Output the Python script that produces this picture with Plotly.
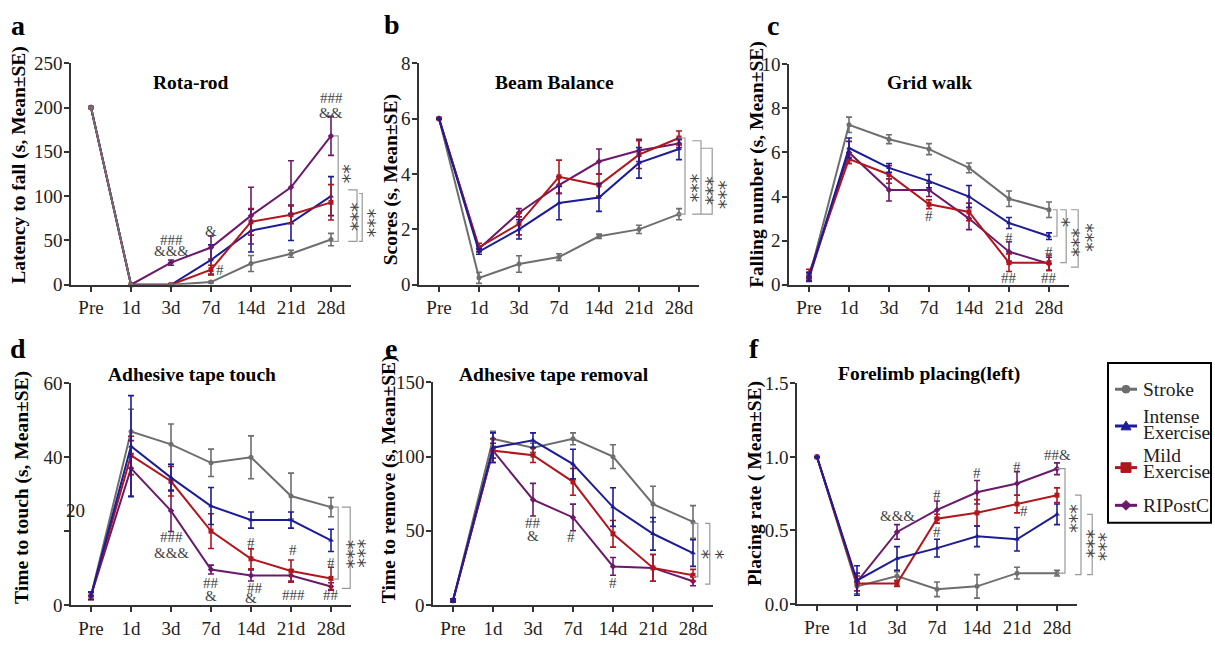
import plotly.graph_objects as go

W, H = 1215, 645
SERIF = "Liberation Serif"
INK = "#222222"
MARK = "#444444"
BRACKET = "#999999"

# ---------------- data ----------------
time_labels = ["Pre", "1d", "3d", "7d", "14d", "21d", "28d"]
group_names = ["Stroke", "Intense Exercise", "Mild Exercise", "RIPostC"]
legend_lines = [["Stroke"], ["Intense", "Exercise"], ["Mild", "Exercise"], ["RIPostC"]]
group_colors = ["#6e6e6e", "#1c1c96", "#b0161c", "#6b1a6b"]
group_symbols = ["circle", "triangle-up", "square", "diamond"]

# a  Rota-rod (latency to fall, s)
rota_stroke = [200, 0, 0, 3, 24, 35, 51]
rota_stroke_se = [0, 0, 0, 1, 9, 4, 7]
rota_intense = [200, 0, 0, 28, 61, 70, 100]
rota_intense_se = [0, 0, 0, 17, 24, 20, 22]
rota_mild = [200, 0, 0, 17, 71, 79, 93]
rota_mild_se = [0, 0, 1, 5, 15, 10, 20]
rota_ripostc = [200, 0, 25, 42, 78, 110, 168]
rota_ripostc_se = [0, 0, 3, 13, 32, 30, 22]

# b  Beam Balance (scores)
beam_stroke = [6, 0.25, 0.75, 1.0, 1.75, 2.0, 2.55]
beam_stroke_se = [0, 0.2, 0.3, 0.12, 0.08, 0.15, 0.2]
beam_intense = [6, 1.2, 2.0, 2.95, 3.15, 4.4, 4.9]
beam_intense_se = [0, 0.1, 0.35, 0.6, 0.5, 0.55, 0.38]
beam_mild = [6, 1.35, 2.2, 3.9, 3.6, 4.7, 5.3]
beam_mild_se = [0, 0.15, 0.4, 0.6, 0.4, 0.5, 0.25]
beam_ripostc = [6, 1.3, 2.6, 3.6, 4.45, 4.85, 5.1]
beam_ripostc_se = [0, 0.1, 0.15, 0.3, 0.45, 0.4, 0.15]

# c  Grid walk (falling number)
grid_stroke = [0.3, 7.25, 6.6, 6.15, 5.3, 3.9, 3.4]
grid_stroke_se = [0.1, 0.35, 0.2, 0.25, 0.22, 0.35, 0.35]
grid_intense = [0.35, 6.2, 5.3, 4.7, 4.0, 2.8, 2.2]
grid_intense_se = [0.2, 0.45, 0.2, 0.3, 0.5, 0.25, 0.15]
grid_mild = [0.5, 5.7, 5.0, 3.65, 3.3, 1.0, 1.0]
grid_mild_se = [0.2, 0.2, 0.4, 0.2, 0.4, 0.4, 0.35]
grid_ripostc = [0.3, 6.0, 4.3, 4.3, 3.0, 1.5, 0.95]
grid_ripostc_se = [0.1, 0.5, 0.5, 0.3, 0.5, 0.45, 0.3]

# d  Adhesive tape touch (time to touch, s)
touch_stroke = [2.5, 47, 43.5, 38.5, 40, 29.5, 26.5]
touch_stroke_se = [1, 6, 5.5, 3.7, 5.8, 6.2, 2.6]
touch_intense = [2.5, 43, 34.5, 26.8, 23, 23, 17.5]
touch_intense_se = [1, 13.7, 3.6, 5, 2.2, 2.2, 3]
touch_mild = [2.5, 40.5, 33.5, 20, 12.5, 9.2, 7.2]
touch_mild_se = [1, 5.2, 4, 4.7, 2.7, 3, 3]
touch_ripostc = [2.5, 37, 25.5, 9.6, 8, 8, 5]
touch_ripostc_se = [1, 7.5, 5.6, 1.2, 1.5, 1.5, 1]

# e  Adhesive tape removal (time to remove, s)
remove_stroke = [3, 112, 106, 112, 100, 68, 56]
remove_stroke_se = [1, 5, 3, 4, 8, 12, 11]
remove_intense = [3, 106, 111, 95, 66, 48, 35]
remove_intense_se = [1, 10, 5, 10, 13, 11, 9]
remove_mild = [3, 104, 101, 83, 48, 25, 20]
remove_mild_se = [1, 8, 5, 9, 9, 9, 4]
remove_ripostc = [3, 104, 71, 59, 26, 25, 16]
remove_ripostc_se = [1, 5, 11, 9, 6, 9, 3]

# f  Forelimb placing (left) (placing rate)
place_stroke = [1.0, 0.12, 0.19, 0.10, 0.12, 0.21, 0.21]
place_stroke_se = [0, 0.05, 0.03, 0.05, 0.08, 0.04, 0.02]
place_intense = [1.0, 0.16, 0.31, 0.38, 0.46, 0.44, 0.61]
place_intense_se = [0, 0.1, 0.08, 0.06, 0.07, 0.08, 0.07]
place_mild = [1.0, 0.14, 0.14, 0.58, 0.62, 0.68, 0.74]
place_mild_se = [0, 0.05, 0.02, 0.03, 0.09, 0.06, 0.05]
place_ripostc = [1.0, 0.15, 0.49, 0.64, 0.76, 0.82, 0.92]
place_ripostc_se = [0, 0.06, 0.05, 0.06, 0.08, 0.08, 0.04]

# significance marks (text, time index, value)
rota_marks = [("###", 2, 51), ("&&&", 2, 38), ("&", 3, 61), ("#", 3.22, 17),
              ("###", 6, 211), ("&&", 6, 194)]
beam_marks = []
grid_marks = [("#", 3, 3.1), ("#", 5, 2.1), ("##", 5, 0.3), ("#", 6, 1.5), ("##", 6, 0.3)]
touch_marks = [("###", 2, 18.5), ("&&&", 2, 14.2), ("##", 3, 5.9), ("&", 3, 2.3),
               ("#", 4, 16.8), ("##", 4.1, 4.6), ("&", 4.0, 2.0), ("#", 5.05, 14.9),
               ("###", 5.05, 2.6), ("#", 6, 11.5), ("##", 6, 2.6)]
remove_marks = [("##", 2, 55.5), ("&", 2, 46.5), ("#", 2.95, 45.6), ("#", 4, 15)]
place_marks = [("&&&", 2, 0.6), ("#", 3, 0.74), ("#", 3, 0.49), ("#", 4, 0.89),
               ("#", 5, 0.93), ("#", 5.18, 0.63), ("##&", 6, 1.01)]

# brackets (x_left, x_right, y_top, y_bottom) and star labels (text, x, y)
rota_brackets = [(6.05, 6.18, 168, 49), (6.43, 6.65, 107, 49), (6.7, 6.78, 103, 49)]
rota_stars = [("**", 6.32, 125), ("***", 6.52, 76), ("***", 6.95, 70)]
beam_brackets = [(5.98, 6.15, 5.3, 2.55), (6.33, 6.55, 5.2, 2.55), (6.55, 6.83, 4.93, 2.55)]
beam_stars = [("***", 6.33, 3.5), ("***", 6.7, 3.4), ("***", 7.03, 3.25)]
grid_brackets = [(6.1, 6.2, 3.4, 2.2), (6.28, 6.43, 3.4, 1.0), (6.55, 6.73, 3.4, 0.8)]
grid_stars = [("*", 6.36, 2.8), ("***", 6.6, 1.93), ("***", 6.95, 2.15)]
touch_brackets = [(6.05, 6.18, 26.5, 7), (6.27, 6.48, 26.5, 4.5)]
touch_stars = [("***", 6.42, 13.6), ("***", 6.7, 13.8)]
remove_brackets = [(6.0, 6.12, 55, 19), (6.3, 6.42, 55, 14)]
remove_stars = [("*", 6.25, 34), ("*", 6.62, 34)]
place_brackets = [(6.0, 6.2, 0.92, 0.21), (6.45, 6.6, 0.74, 0.2), (6.75, 6.88, 0.61, 0.2)]
place_stars = [("***", 6.36, 0.58), ("***", 6.78, 0.41), ("***", 7.08, 0.39)]

# ---------------- panel layout (pixels) ----------------
panels = [
    dict(letter="a", title="Rota-rod", ytitle="Latency to fall (s, Mean±SE)",
         pre=91, top=55, bot=284, ymax=250, tickvals=[0, 50, 100, 150, 200, 250], fmt=None,
         series=[(rota_stroke, rota_stroke_se), (rota_intense, rota_intense_se),
                 (rota_mild, rota_mild_se), (rota_ripostc, rota_ripostc_se)],
         order=[1, 2, 3, 0], marks=rota_marks, brackets=rota_brackets, stars=rota_stars,
         letter_xy=(18, 16), title_xy=(191, 75), ytitle_xy=(19, 160)),
    dict(letter="b", title="Beam Balance", ytitle="Scores (s, Mean±SE)",
         pre=439, top=55, bot=284, ymax=8, tickvals=[0, 2, 4, 6, 8], fmt=None,
         series=[(beam_stroke, beam_stroke_se), (beam_intense, beam_intense_se),
                 (beam_mild, beam_mild_se), (beam_ripostc, beam_ripostc_se)],
         order=[0, 3, 2, 1], marks=beam_marks, brackets=beam_brackets, stars=beam_stars,
         letter_xy=(392, 15), title_xy=(554, 75), ytitle_xy=(391, 176)),
    dict(letter="c", title="Grid walk", ytitle="Falling number (s, Mean±SE)",
         pre=809, top=56, bot=284, ymax=10, tickvals=[0, 2, 4, 6, 8, 10], fmt=None,
         series=[(grid_stroke, grid_stroke_se), (grid_intense, grid_intense_se),
                 (grid_mild, grid_mild_se), (grid_ripostc, grid_ripostc_se)],
         order=[0, 3, 2, 1], marks=grid_marks, brackets=grid_brackets, stars=grid_stars,
         letter_xy=(773, 16), title_xy=(929, 75), ytitle_xy=(757, 160)),
    dict(letter="d", title="Adhesive tape touch", ytitle="Time to touch (s, Mean±SE)",
         pre=91, top=386, bot=615, ymax=60, tickvals=[0, 20, 40, 60], fmt=None,
         series=[(touch_stroke, touch_stroke_se), (touch_intense, touch_intense_se),
                 (touch_mild, touch_mild_se), (touch_ripostc, touch_ripostc_se)],
         order=[0, 3, 2, 1], marks=touch_marks, brackets=touch_brackets, stars=touch_stars,
         letter_xy=(18, 350), title_xy=(192, 377), ytitle_xy=(22, 494)),
    dict(letter="e", title="Adhesive tape removal", ytitle="Time to remove (s, Mean±SE)",
         pre=453, top=385, bot=615, ymax=150, tickvals=[0, 50, 100, 150], fmt=None,
         series=[(remove_stroke, remove_stroke_se), (remove_intense, remove_intense_se),
                 (remove_mild, remove_mild_se), (remove_ripostc, remove_ripostc_se)],
         order=[0, 3, 2, 1], marks=remove_marks, brackets=remove_brackets, stars=remove_stars,
         letter_xy=(391, 350), title_xy=(554, 377), ytitle_xy=(389, 485)),
    dict(letter="f", title="Forelimb placing(left)", ytitle="Placing rate ( Mean±SE)",
         pre=817, top=386, bot=614, ymax=1.5, tickvals=[0, 0.5, 1.0, 1.5], fmt=".1f",
         series=[(place_stroke, place_stroke_se), (place_intense, place_intense_se),
                 (place_mild, place_mild_se), (place_ripostc, place_ripostc_se)],
         order=[0, 3, 2, 1], marks=place_marks, brackets=place_brackets, stars=place_stars,
         letter_xy=(754, 350), title_xy=(929, 376), ytitle_xy=(755, 489)),
]

STEP = 40  # pixels between time points


def to_paper(p, xi, yv):
    x_px = p["pre"] + STEP * xi
    y_px = p["bot"] - (yv / p["ymax"]) * (p["bot"] - p["top"])
    return x_px / W, 1 - y_px / H


def pp(x_px, y_px):
    return x_px / W, 1 - y_px / H


fig = go.Figure()
annotations = []
shapes = []

for i, p in enumerate(panels):
    n = "" if i == 0 else str(i + 1)
    xa, ya = "x" + n, "y" + n
    for g in p["order"]:
        mean, se = p["series"][g]
        c = group_colors[g]
        fig.add_trace(go.Scatter(
            x=time_labels, y=mean, xaxis=xa, yaxis=ya,
            mode="lines+markers", name=group_names[g], showlegend=False,
            line=dict(color=c, width=2),
            marker=dict(symbol=group_symbols[g], size=5, color=c),
            error_y=dict(type="data", array=se, color=c, thickness=1.6, width=3),
            cliponaxis=False,
        ))

    x0 = (p["pre"] - STEP / 2) / W
    x1 = (p["pre"] + STEP * 6.5) / W
    ax_common = dict(
        showline=True, linecolor="#333333", linewidth=1.5,
        ticks="outside", ticklen=5, tickwidth=1.5, tickcolor="#333333",
        showgrid=False, zeroline=False,
        tickfont=dict(family=SERIF, size=19, color=INK),
    )
    if p["fmt"]:
        ticktext = [format(v, p["fmt"]) for v in p["tickvals"]]
    else:
        ticktext = [str(v) for v in p["tickvals"]]
    if p["letter"] == "d":
        ticktext = ["" if v == 20 else t for v, t in zip(p["tickvals"], ticktext)]
    fig.update_layout(**{
        ("xaxis" + n): dict(ax_common, type="category", range=[-0.5, 6.5],
                            domain=[x0, x1], anchor=ya, ticklabelstandoff=0),
        ("yaxis" + n): dict(ax_common, range=[0, p["ymax"]],
                            domain=[1 - p["bot"] / H, 1 - p["top"] / H], anchor=xa,
                            tickvals=p["tickvals"], ticktext=ticktext, ticklabelstandoff=-2),
    })

    # panel letter, title, y-axis title
    lx, ly = p["letter_xy"]
    annotations.append(dict(text="<b>%s</b>" % p["letter"], x=lx / W, y=1 - ly / H,
                            xref="paper", yref="paper", showarrow=False,
                            font=dict(family=SERIF, size=28, color="#000"),
                            xanchor="center", yanchor="middle"))
    tx, ty = p["title_xy"]
    annotations.append(dict(text="<b>%s</b>" % p["title"], x=tx / W, y=1 - ty / H,
                            xref="paper", yref="paper", showarrow=False,
                            font=dict(family=SERIF, size=19.5, color="#000"),
                            xanchor="center", yanchor="middle"))
    yx, yy = p["ytitle_xy"]
    annotations.append(dict(text="<b>%s</b>" % p["ytitle"], x=yx / W, y=1 - yy / H,
                            xref="paper", yref="paper", showarrow=False, textangle=-90,
                            font=dict(family=SERIF, size=19.5, color="#000"),
                            xanchor="center", yanchor="middle"))

    for txt, xi, yv in p["marks"]:
        px_, py_ = to_paper(p, xi, yv)
        annotations.append(dict(text=txt, x=px_, y=py_, xref="paper", yref="paper",
                                showarrow=False, xanchor="center", yanchor="middle",
                                font=dict(family=SERIF, size=15, color=MARK)))
    for xl, xr, yt, yb in p["brackets"]:
        a = to_paper(p, xl, yt)
        b = to_paper(p, xr, yt)
        c_ = to_paper(p, xr, yb)
        d_ = to_paper(p, xl, yb)
        shapes.append(dict(type="path", xref="paper", yref="paper",
                           path="M %f,%f L %f,%f L %f,%f L %f,%f" % (a[0], a[1], b[0], b[1],
                                                                      c_[0], c_[1], d_[0], d_[1]),
                           line=dict(color=BRACKET, width=1.2)))
    for txt, xi, yv in p["stars"]:
        px_, py_ = to_paper(p, xi, yv)
        annotations.append(dict(text=txt, x=px_, y=py_, xref="paper", yref="paper",
                                showarrow=False, xanchor="center", yanchor="middle",
                                textangle=90,
                                font=dict(family="DejaVu Sans", size=19, color=MARK)))

# misplaced "20" tick label of panel d
fx, fy = to_paper(panels[3], -0.4, 25.7)
annotations.append(dict(text="20", x=fx, y=fy, xref="paper", yref="paper", showarrow=False,
                        xanchor="center", yanchor="middle",
                        font=dict(family=SERIF, size=19, color=INK)))

# ---------------- hand-drawn legend (pixels) ----------------
bx0, by0 = pp(1108, 365)
bx1, by1 = pp(1211, 530)
shapes.append(dict(type="rect", xref="paper", yref="paper", x0=bx0, y0=by1, x1=bx1, y1=by0,
                   line=dict(color="#000000", width=2), fillcolor="rgba(0,0,0,0)"))
legend_symbol_y = [392, 430, 473, 512]
legend_text_y = [[392], [420, 437], [460, 477], [512]]
for g in range(4):
    c = group_colors[g]
    sy = legend_symbol_y[g]
    (lx0, ly0), (lx1, _) = pp(1115, sy), pp(1137, sy)
    shapes.append(dict(type="line", xref="paper", yref="paper", x0=lx0, y0=ly0, x1=lx1, y1=ly0,
                       line=dict(color=c, width=3)))
    cx = 1126
    sym = group_symbols[g]
    if sym == "circle":
        (ax_, ay_), (bx_, by_) = pp(cx - 4, sy + 4), pp(cx + 4, sy - 4)
        shapes.append(dict(type="circle", xref="paper", yref="paper", x0=ax_, y0=ay_,
                           x1=bx_, y1=by_, fillcolor=c, line=dict(color=c, width=1)))
    elif sym == "square":
        (ax_, ay_), (bx_, by_) = pp(cx - 5, sy + 5), pp(cx + 5, sy - 5)
        shapes.append(dict(type="rect", xref="paper", yref="paper", x0=ax_, y0=ay_,
                           x1=bx_, y1=by_, fillcolor=c, line=dict(color=c, width=1)))
    else:
        if sym == "triangle-up":
            pts = [pp(cx - 5, sy + 4), pp(cx + 5, sy + 4), pp(cx, sy - 5)]
        else:
            pts = [pp(cx, sy - 5), pp(cx + 5, sy), pp(cx, sy + 5), pp(cx - 5, sy)]
        path = "M " + " L ".join("%f,%f" % q for q in pts) + " Z"
        shapes.append(dict(type="path", xref="paper", yref="paper", path=path,
                           fillcolor=c, line=dict(color=c, width=1)))
    for line_txt, ty_ in zip(legend_lines[g], legend_text_y[g]):
        tx_, tyy = pp(1141, ty_)
        annotations.append(dict(text=line_txt, x=tx_, y=tyy, xref="paper", yref="paper",
                                showarrow=False, xanchor="left", yanchor="middle",
                                font=dict(family=SERIF, size=19.5, color=INK)))

fig.update_layout(
    width=W, height=H, autosize=False,
    margin=dict(l=0, r=0, t=0, b=0),
    paper_bgcolor="white", plot_bgcolor="white",
    annotations=annotations, shapes=shapes,
    showlegend=False,
)

fig.write_html("out.html")
